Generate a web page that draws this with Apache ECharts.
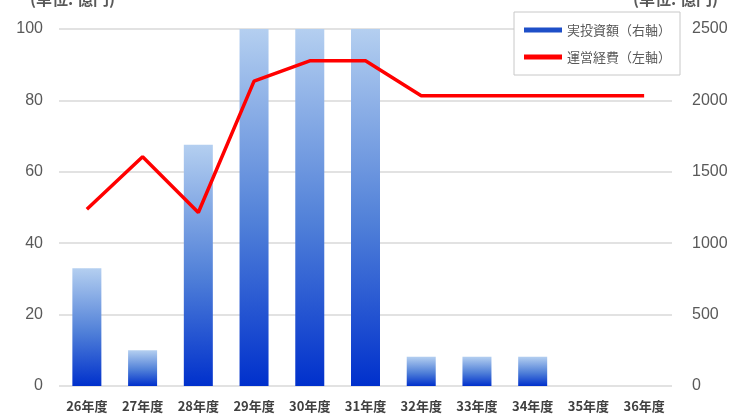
<!DOCTYPE html>
<html><head><meta charset="utf-8">
<script src="https://cdn.jsdelivr.net/npm/echarts@6/dist/echarts.min.js"></script>
<style>html,body{margin:0;padding:0;background:#fff}#c{width:736px;height:416px}</style>
</head><body><div id="c"></div>
<script>
const categories = ['26年度','27年度','28年度','29年度','30年度','31年度','32年度','33年度','34年度','35年度','36年度'];
const investment = [825, 250, 1690, 2500, 2500, 2500, 205, 205, 205, 0, 0]; // 実投資額 (右軸)
const opex = [49.5, 64.2, 48.6, 85.4, 91.1, 91.1, 81.3, 81.3, 81.3, 81.3, 81.3]; // 運営経費 (左軸)
const leftTicks = [0, 20, 40, 60, 80, 100];
const rightTicks = [0, 500, 1000, 1500, 2000, 2500];
const seriesNames = ['実投資額（右軸）', '運営経費（左軸）'];
const unitText = '(単位: 億円)';

const chart = echarts.init(document.getElementById('c'), null, {renderer:'canvas'});
const jp = '"Noto Sans CJK JP", "Noto Sans", sans-serif';
chart.setOption({
  animation: false,
  backgroundColor: '#fff',
  grid: {left: 59, right: 64, top: 29, bottom: 30},
  legend: {
    orient: 'vertical', left: 514, top: 12,
    backgroundColor: '#fff', borderColor: '#c8c8c8', borderWidth: 1,
    padding: [9, 9, 9, 10], itemGap: 9, itemWidth: 38, itemHeight: 5, itemTextGap: 7,
    textStyle: {fontFamily: jp, fontSize: 13, color: '#595959', lineHeight: 18},
    data: [
      {name: seriesNames[0], icon: 'rect', itemStyle: {color: '#1e4fc8'}},
      {name: seriesNames[1], icon: 'rect', itemStyle: {color: '#ff0000'}}
    ]
  },
  graphic: [
    {type: 'text', left: 30, top: -9, style: {text: unitText, font: 'bold 16px ' + jp, fill: '#595959'}},
    {type: 'text', left: 633, top: -9, style: {text: unitText, font: 'bold 16px ' + jp, fill: '#595959'}}
  ],
  xAxis: {
    type: 'category', data: categories,
    axisLine: {show: false}, axisTick: {show: false},
    axisLabel: {fontFamily: jp, fontSize: 13, fontWeight: 'bold', color: '#404040', margin: 14}
  },
  yAxis: [
    {type: 'value', min: 0, max: 100, interval: 20,
     axisLine: {show: false}, axisTick: {show: false},
     axisLabel: {fontFamily: '"Liberation Sans", sans-serif', fontSize: 16, color: '#595959', margin: 16,
       formatter: v => leftTicks.includes(v) ? String(v) : ''},
     splitLine: {lineStyle: {color: '#d9d9d9', width: 1.5}}},
    {type: 'value', min: 0, max: 2500, interval: 500, position: 'right',
     axisLine: {show: false}, axisTick: {show: false},
     axisLabel: {fontFamily: '"Liberation Sans", sans-serif', fontSize: 16, color: '#595959', margin: 20,
       formatter: v => rightTicks.includes(v) ? String(v) : ''},
     splitLine: {show: false}}
  ],
  series: [
    {name: seriesNames[0], type: 'bar', yAxisIndex: 1, data: investment, barWidth: 29,
     itemStyle: {color: new echarts.graphic.LinearGradient(0, 0, 0, 1, [
       {offset: 0, color: '#b4cff0'}, {offset: 0.55, color: '#4f7fd8'}, {offset: 1, color: '#0030cc'}])}},
    {name: seriesNames[1], type: 'line', yAxisIndex: 0, data: opex, symbol: 'none',
     lineStyle: {color: '#ff0000', width: 3.5}, itemStyle: {color: '#ff0000'}}
  ]
});
</script></body></html>
